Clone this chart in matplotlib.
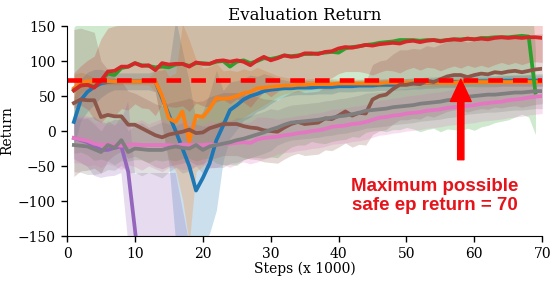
#!/usr/bin/env python3
"""
Evaluation return curves (mean +/- std) for several runs, with the
maximum possible safe episode return marked.
"""
import numpy as np
import matplotlib
matplotlib.use("Agg")
import matplotlib.pyplot as plt

plt.rcParams["font.family"] = "serif"
plt.rcParams["font.serif"] = ["DejaVu Serif"]

steps = list(range(1, 71))

blue_mean = [13, 44, 56, 63, 68, 70, 71, 71, 71, 71, 71, 71, 71,
             47, 23, 0, -25, -50, -85, -67, -46, -13, 8, 30, 37, 45,
             50, 53, 57, 59, 60, 61, 61, 62, 62, 62, 63, 63, 63,
             64, 64, 64, 65, 65, 65, 66, 66, 66, 67, 67, 68, 68,
             69, 69, 70, 70, 70, 70, 71, 71, 71, 71, 71, 72, 72,
             72, 72, 72, 72, 72]
blue_std = [35, 30, 28, 25, 20, 15, 12, 12, 12, 12, 12, 12, 15,
            40, 70, 160, 140, 120, 100, 95, 100, 100, 50, 40, 35, 30,
            30, 25, 25, 20, 15, 12, 10, 10, 10, 10, 10, 10, 10,
            8, 8, 8, 8, 8, 8, 8, 8, 8, 8, 8, 8, 8,
            8, 8, 8, 8, 8, 8, 8, 8, 8, 8, 8, 8, 8,
            8, 8, 8, 8, 8]

orange_mean = [61, 69, 71, 71, 71, 71, 71, 71, 71, 71, 71, 71, 71,
               50, 18, 13, 28, -15, 22, 20, 32, 47, 46, 47, 50, 54,
               56, 61, 62, 63, 64, 65, 65, 66, 66, 67, 67, 67, 67,
               68, 68, 68, 68, 68, 68, 68, 69, 69, 69, 69, 69, 69,
               69, 69, 69, 69, 69, 70, 70, 70, 70, 70, 70, 70, 70,
               70, 70, 70, 70, 70]
orange_std = [20, 15, 10, 5, 5, 5, 5, 5, 5, 5, 5, 5, 15,
              45, 60, 70, 125, 145, 80, 70, 60, 50, 40, 40, 35, 35,
              30, 30, 25, 20, 15, 12, 10, 10, 8, 8, 8, 8, 8,
              6, 6, 6, 6, 6, 6, 6, 6, 6, 6, 6, 6, 6,
              6, 6, 6, 6, 6, 6, 6, 6, 6, 6, 6, 6, 6,
              6, 6, 6, 6, 6]

# green run stops one evaluation earlier
green_mean = [58, 65, 66, 63, 72, 82, 80, 90, 92, 97, 94, 93, 91,
              92, 91, 95, 96, 93, 97, 97, 96, 99, 100, 92, 99, 101,
              97, 100, 104, 103, 105, 108, 107, 108, 110, 110, 111, 112, 113,
              112, 118, 120, 121, 123, 124, 126, 127, 128, 130, 130, 130, 129,
              130, 130, 129, 130, 131, 131, 132, 131, 133, 133, 134, 134, 134,
              135, 136, 135, 55]
green_std = [90, 95, 100, 105, 112, 125, 128, 132, 135, 138, 135, 138, 132,
             135, 132, 138, 135, 132, 140, 137, 135, 145, 148, 140, 148, 142,
             135, 138, 143, 140, 143, 138, 130, 128, 130, 125, 128, 130, 128,
             125, 130, 128, 130, 125, 124, 125, 128, 126, 128, 125, 127, 130,
             128, 126, 130, 127, 129, 130, 128, 130, 127, 125, 122, 120, 118,
             115, 112, 115, 60]

red_mean = [58, 65, 66, 62, 72, 85, 86, 92, 92, 97, 93, 94, 87,
            97, 95, 96, 96, 92, 98, 96, 96, 100, 101, 99, 101, 99,
            94, 101, 106, 101, 104, 108, 106, 107, 111, 111, 110, 113, 114,
            118, 120, 119, 121, 123, 122, 124, 125, 126, 125, 128, 129, 127,
            129, 130, 128, 130, 131, 130, 132, 131, 132, 131, 133, 134, 133,
            134, 133, 134, 134, 133]
red_std = [25, 28, 35, 45, 60, 62, 64, 60, 62, 58, 60, 62, 65,
           58, 60, 62, 60, 64, 58, 60, 62, 58, 56, 60, 55, 58,
           60, 55, 50, 52, 48, 44, 46, 45, 42, 40, 42, 40, 38,
           36, 35, 34, 36, 40, 42, 40, 38, 40, 42, 40, 38, 40,
           38, 40, 42, 40, 38, 40, 38, 40, 38, 40, 38, 36, 38,
           36, 38, 36, 35, 35]

purple_mean = [-10, -13, -16, -22, -27, -27, -24, -22, -58, -141, -230, -300, -320,
               -330, -340, -345, -350, -350, -350, -350, -350, -350, -350, -350, -350, -350,
               -350, -350, -350, -350, -350, -350, -350, -350, -350, -350, -350, -350, -350,
               -350, -350, -350, -350, -350, -350, -350, -350, -350, -350, -350, -350, -350,
               -350, -350, -350, -350, -350, -350, -350, -350, -350, -350, -350, -350, -350,
               -350, -350, -350, -350, -350]
purple_std = [30, 32, 35, 42, 40, 38, 40, 38, 100, 80, 170, 240, 260,
              270, 280, 285, 240, 190, 120, 120, 120, 120, 120, 120, 120, 120,
              120, 120, 120, 120, 120, 120, 120, 120, 120, 120, 120, 120, 120,
              120, 120, 120, 120, 120, 120, 120, 120, 120, 120, 120, 120, 120,
              120, 120, 120, 120, 120, 120, 120, 120, 120, 120, 120, 120, 120,
              120, 120, 120, 120, 120]

brown_mean = [40, 45, 44, 44, 20, 23, 21, 21, 9, 9, 4, -1, -6,
              -9, -5, -3, -1, 2, -3, -2, 4, 7, 10, 10, 10, 7,
              5, 4, 1, 0, -1, 5, 10, 13, 10, 11, 12, 18, 17,
              22, 28, 22, 26, 25, 45, 50, 52, 60, 66, 66, 68, 67,
              72, 70, 74, 78, 80, 80, 77, 80, 82, 81, 84, 83, 85,
              86, 84, 86, 88, 89]
brown_std = [105, 102, 100, 97, 80, 65, 55, 50, 48, 45, 45, 45, 45,
             45, 45, 45, 45, 45, 45, 45, 45, 45, 45, 45, 45, 45,
             45, 45, 45, 45, 45, 45, 45, 45, 45, 45, 45, 45, 45,
             45, 45, 45, 45, 45, 50, 50, 50, 50, 50, 50, 50, 50,
             50, 50, 50, 50, 50, 50, 50, 50, 50, 50, 50, 50, 50,
             50, 50, 50, 50, 50]

pink_mean = [-10, -12, -14, -18, -20, -19, -20, -21, -20, -19, -20, -20, -20,
             -20, -20, -21, -19, -20, -20, -20, -19, -20, -18, -18, -17, -16,
             -17, -12, -10, -9, -8, -6, -5, -3, -2, 0, 1, 3, 6,
             7, 8, 10, 11, 13, 16, 19, 20, 22, 23, 25, 26, 27,
             29, 30, 31, 33, 34, 35, 36, 37, 39, 40, 41, 42, 44,
             45, 46, 48, 49, 50]
pink_std = [35, 34, 36, 30, 32, 28, 30, 34, 28, 32, 36, 30, 34,
            38, 32, 30, 36, 34, 30, 28, 34, 32, 30, 34, 30, 28,
            30, 32, 30, 28, 25, 25, 25, 25, 25, 25, 25, 25, 25,
            25, 25, 25, 25, 25, 25, 25, 25, 25, 25, 25, 25, 25,
            25, 25, 25, 25, 25, 25, 25, 25, 25, 25, 25, 25, 25,
            25, 25, 25, 25, 25]

gray_mean = [-20, -21, -22, -26, -30, -20, -24, -13, -30, -25, -26, -27, -27,
             -27, -24, -22, -24, -25, -20, -27, -22, -20, -18, -16, -13, -11,
             -8, -5, -2, 2, 5, 9, 12, 13, 14, 15, 16, 18, 19,
             21, 22, 24, 26, 29, 30, 31, 32, 34, 35, 36, 37, 39,
             40, 41, 42, 44, 45, 47, 49, 50, 51, 52, 52, 53, 54,
             55, 55, 56, 57, 57]
gray_std = [38, 38, 40, 36, 30, 35, 32, 36, 30, 34, 38, 32, 36,
            40, 34, 30, 36, 32, 30, 34, 30, 32, 34, 30, 32, 30,
            30, 30, 30, 30, 25, 25, 25, 25, 25, 25, 25, 25, 25,
            25, 25, 25, 25, 25, 25, 25, 25, 25, 25, 25, 25, 25,
            25, 25, 25, 25, 25, 25, 25, 25, 25, 25, 25, 25, 25,
            25, 25, 25, 25, 25]

max_safe_line = 72.5
annotation_text = "Maximum possible\nsafe ep return = 70"

RUNS = [
    (blue_mean, blue_std, "tab:blue"),
    (orange_mean, orange_std, "tab:orange"),
    (green_mean, green_std, "tab:green"),
    (red_mean, red_std, "tab:red"),
    (purple_mean, purple_std, "tab:purple"),
    (brown_mean, brown_std, "tab:brown"),
    (pink_mean, pink_std, "tab:pink"),
    (gray_mean, gray_std, "tab:gray"),
]


def main():
    fig = plt.figure(figsize=(5.59, 2.83), dpi=100)
    ax = fig.add_axes([0.12, 0.166, 0.85, 0.742])

    for mean, std, color in RUNS:
        m = np.array(mean, dtype=float)
        s = np.array(std, dtype=float)
        x = np.array(steps[:len(m)])
        ax.fill_between(x, m - s, m + s, color=color, alpha=0.23, lw=0)
    for mean, std, color in RUNS:
        ax.plot(steps[:len(mean)], mean, color=color, lw=2.7)

    ax.axhline(max_safe_line, color="red", lw=3.3, dashes=(3.2, 2.2))

    # arrow + label pointing at the safe-return line
    ax.annotate("", xy=(58, 74), xytext=(58, -41),
                arrowprops=dict(facecolor="red", edgecolor="red",
                                width=4.5, headwidth=15, headlength=16,
                                shrink=0))
    ax.text(54.2, -93, annotation_text, color="#e5141b", fontsize=13.5,
            fontweight="bold", family="Liberation Sans",
            ha="center", va="center", linespacing=1.1)

    ax.set_xlim(0, 70)
    ax.set_ylim(-150, 150)
    ax.set_xticks(range(0, 71, 10))
    ax.set_yticks(range(-150, 151, 50))
    ax.tick_params(labelsize=10, length=4.5, width=1)
    ax.set_title("Evaluation Return", fontsize=12, pad=4)
    ax.set_xlabel("Steps (x 1000)", fontsize=10, labelpad=0)
    ax.set_ylabel("Return", fontsize=10, labelpad=3)
    for side in ("top", "right"):
        ax.spines[side].set_visible(False)

    fig.savefig("out.png", dpi=100)


if __name__ == "__main__":
    main()
